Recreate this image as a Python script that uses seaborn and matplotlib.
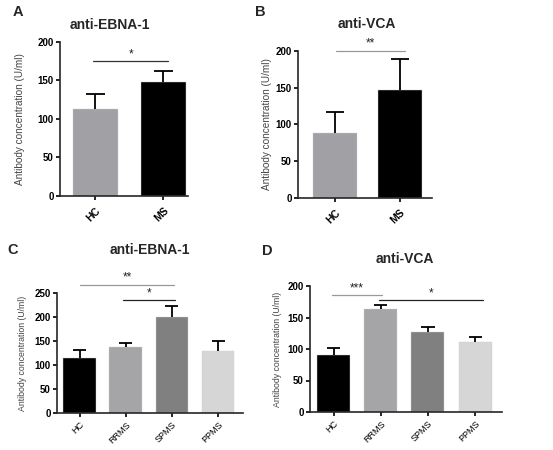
import matplotlib
matplotlib.use('Agg')
import matplotlib.pyplot as plt
import seaborn as sns

# data
groups_two = ['HC', 'MS']
ebna_two = [113, 148]
ebna_two_err = [19, 14]
vca_two = [89, 147]
vca_two_err = [28, 42]

groups_four = ['HC', 'RRMS', 'SPMS', 'PPMS']
ebna_four = [114, 137, 200, 129]
ebna_four_err = [17, 9, 23, 21]
vca_four = [90, 163, 127, 111]
vca_four_err = [12, 7, 8, 8]

colors_two = ['#a0a0a5', '#000000']
colors_four = ['#000000', '#a5a5a8', '#808080', '#d6d6d6']

W, H = 553, 450
sns.set_theme(style='ticks')
plt.rcParams['font.family'] = ['Liberation Sans', 'DejaVu Sans']
plt.rcParams['axes.linewidth'] = 1.2


def px_axes(fig, left, top, right, bottom):
    """Add axes from pixel box (y measured from top)."""
    return fig.add_axes([left / W, 1 - bottom / H, (right - left) / W, (bottom - top) / H])


def draw_panel(ax, cats, vals, errs, colors, ymax, step, xlim, width, cap, bold_x, rot_pad, ylab_size):
    sns.barplot(x=cats, y=vals, hue=cats, palette=colors, width=width, saturation=1,
                legend=False, errorbar=None, edgecolor='#d0d0d0', linewidth=0.3, ax=ax)
    # upper-only error bars (SEM style)
    xs = list(range(len(cats)))
    tops = [v + e for v, e in zip(vals, errs)]
    ax.vlines(xs, vals, tops, color='black', lw=1.3)
    ax.hlines(tops, [x - cap for x in xs], [x + cap for x in xs], color='black', lw=1.3)
    ax.set_ylim(0, ymax)
    ax.set_yticks(range(0, ymax + 1, step))
    ax.set_xlim(*xlim)
    for s in ['top', 'right']:
        ax.spines[s].set_visible(False)
    ax.tick_params(axis='both', length=3, width=1.2, pad=1.5, colors='black')
    for lab in ax.get_yticklabels():
        lab.set_fontweight('bold')
        lab.set_fontsize(7)
    ax.set_xticks(xs)
    ax.set_xticklabels(cats, rotation=45, ha='right', rotation_mode='anchor',
                       fontsize=7.5 if bold_x else 6.5,
                       fontweight='bold' if bold_x else 'normal')
    ax.tick_params(axis='x', pad=rot_pad)
    ax.set_xlabel('')
    ax.set_ylabel('Antibody concentration (U/ml)', fontsize=ylab_size, color='#444444')


def sig(ax, x0, x1, y, text, color, dy):
    ax.plot([x0, x1], [y, y], color=color, lw=0.9, clip_on=False)
    ax.text((x0 + x1) / 2, y + dy, text, ha='center', va='bottom', fontsize=8.5, color='#222222')


fig = plt.figure(figsize=(W / 100, H / 100), dpi=100)

# Panel A
axA = px_axes(fig, 60, 42, 188, 196)
draw_panel(axA, groups_two, ebna_two, ebna_two_err, colors_two, 200, 50,
           (-0.52, 1.36), 0.66, 0.14, True, 4, 7.2)
sig(axA, -0.03, 1.07, 175, '*', '#333333', 1)
axA.yaxis.set_label_coords((25 - 60) / 128, 0.5)

# Panel B
axB = px_axes(fig, 298, 51, 432, 198)
draw_panel(axB, groups_two, vca_two, vca_two_err, colors_two, 200, 50,
           (-0.57, 1.49), 0.68, 0.14, True, 4, 7.2)
sig(axB, 0.02, 1.08, 200, '**', '#999999', 2)
axB.yaxis.set_label_coords((272 - 298) / 134, 0.5)

# Panel C
axC = px_axes(fig, 57, 293, 243, 413)
draw_panel(axC, groups_four, ebna_four, ebna_four_err, colors_four, 250, 50,
           (-0.49, 3.54), 0.71, 0.14, False, 2, 6.3)
sig(axC, 0.0, 2.05, 267, '**', '#999999', 2)
sig(axC, 0.95, 2.07, 235, '*', '#222222', 1)
axC.yaxis.set_label_coords((27 - 57) / 186, 0.5)

# Panel D
axD = px_axes(fig, 310, 286, 502, 412)
draw_panel(axD, groups_four, vca_four, vca_four_err, colors_four, 200, 50,
           (-0.5, 3.57), 0.70, 0.14, False, 2, 6.3)
sig(axD, -0.03, 1.03, 185, '***', '#999999', 1)
sig(axD, 0.97, 3.17, 178, '*', '#222222', 1)
axD.yaxis.set_label_coords((282 - 310) / 192, 0.5)

# titles and panel letters
for x, y, t in [(110, 25, 'anti-EBNA-1'), (367, 24, 'anti-VCA'),
                (150, 250, 'anti-EBNA-1'), (405, 259, 'anti-VCA')]:
    fig.text(x / W, 1 - y / H, t, ha='center', va='center', fontsize=10, fontweight='bold')
for x, y, t in [(18, 12, 'A'), (260, 12, 'B'), (13, 250, 'C'), (267, 251, 'D')]:
    fig.text(x / W, 1 - y / H, t, ha='center', va='center', fontsize=10.5, fontweight='bold')

fig.savefig('out.png', dpi=100, facecolor='white')
